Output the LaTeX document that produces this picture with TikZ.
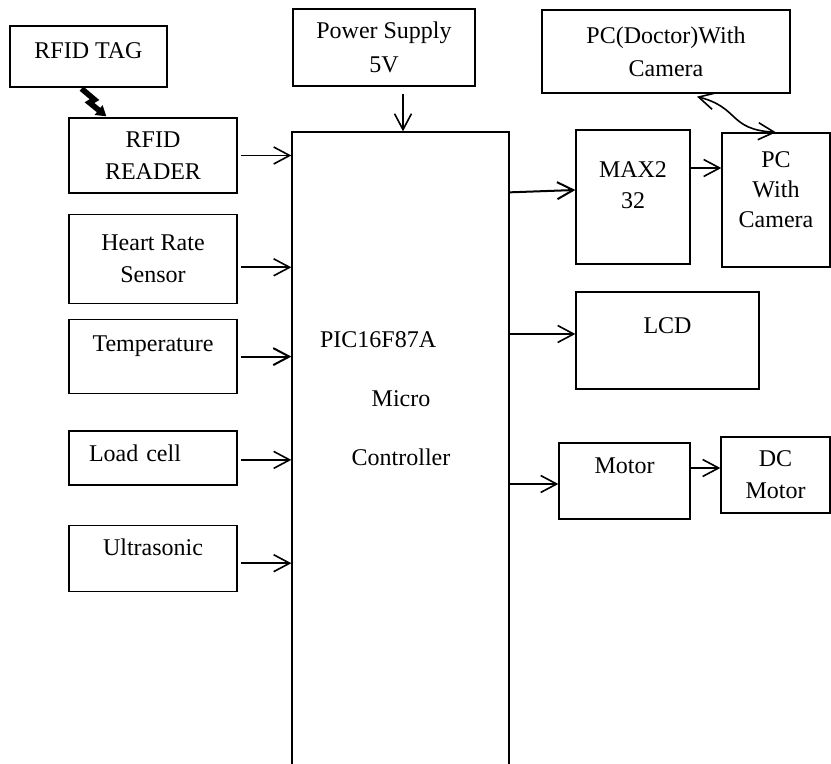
\documentclass[tikz,border=0pt]{standalone}
\usepackage{fontspec}
\setmainfont{Liberation Serif}
\usetikzlibrary{positioning, calc, arrows.meta}
\tikzstyle{block} = [rectangle, draw=black, line width=0.65pt, align=center, inner sep=2pt]
\tikzstyle{arrow} = [line width=0.8pt, -{Straight Barb[length=8pt,width=8.5pt]}]
\tikzstyle{link} = [line width=0.8pt, {Straight Barb[length=8pt,width=8.5pt]}-{Straight Barb[length=8pt,width=8.5pt]}]
\tikzstyle{bolt} = [line width=2.8pt, -{Triangle[length=5pt,width=6pt]}]
\newcommand{\lowpad}[1]{\rule[-#1]{0pt}{0pt}}

\begin{document}
\begin{tikzpicture}[x=0.5pt, y=-0.5pt, font=\fontsize{12}{16}\selectfont]
\useasboundingbox (0,0) rectangle (831,764);
\clip (0,0) rectangle (831,764);
% sensors
\node (tag) [block, minimum width=78.5pt, minimum height=30.5pt, text depth=6.4pt] at (88.5,56.5) {RFID TAG};
\node (reader) [block, minimum width=84pt, minimum height=37.5pt] at (153,155.5) {RFID\\READER};
\node (heart) [block, minimum width=84pt, minimum height=44.5pt, below=10pt of reader] {Heart Rate\\Sensor};
\node (temp) [block, minimum width=84pt, minimum height=37pt, text depth=13pt, below=7.5pt of heart] {Temperature};
\node (load) [block, minimum width=84pt, minimum height=27pt, text width=64pt, inner xsep=10pt, align=left, text depth=5.2pt, below=18pt of temp] {Load cell};
\node (ultra) [block, minimum width=84pt, minimum height=33pt, text depth=11.2pt, below=19.5pt of load] {Ultrasonic};
% controller
\node (power) [block, minimum width=91pt, minimum height=38.5pt] at (384,47.5) {Power Supply\\[1pt]5V};
\node (micro) [block, minimum width=108.5pt, minimum height=334pt] at (400.5,466) {};
\node (pic) [anchor=base west] at (313,348) {PIC16F87A};
\node (mc1) [anchor=base] at (401,407) {Micro};
\node (mc2) [anchor=base] at (401,466) {Controller};
% outputs
\node (doctor) [block, minimum width=124pt, minimum height=41.5pt] at (666,51.5) {PC(Doctor)With\\[0.5pt]Camera};
\node (max) [block, minimum width=57pt, minimum height=67pt] at (633,197) {MAX2\\[-0.5pt]32\lowpad{12pt}};
\node (pc) [block, minimum width=54pt, minimum height=67pt] at (776,200) {PC\\[-1pt]With\\[-1pt]Camera\lowpad{10pt}};
\node (lcd) [block, minimum width=91.5pt, minimum height=48.5pt, text depth=14.5pt] at (667.5,340.5) {LCD};
\node (motor) [block, minimum width=65.5pt, minimum height=38pt, text depth=15pt] at (624.5,481) {Motor};
\node (dcm) [block, minimum width=54.5pt, minimum height=38pt] at (775.5,475) {DC\\Motor};

\draw [bolt] ($(tag.south)+(-7,1)$) -- ++(13,11) -- ++(-5,3) -- ($(reader.north west)+(38,-1)$);
\draw [arrow] ([xshift=1.5pt]reader.east) -- (reader.east -| micro.west);
\coordinate (h1) at ($(heart.east)+(3,8.5)$);
\draw [arrow] (h1) -- (h1 -| micro.west);
\draw [arrow, line width=1pt] ([xshift=1.5pt]temp.east) -- (temp.east -| micro.west);
\coordinate (c1) at ($(load.east)+(3,2)$);
\draw [arrow] (c1) -- (c1 -| micro.west);
\coordinate (u1) at ($(ultra.east)+(3,5)$);
\draw [arrow] (u1) -- (u1 -| micro.west);
\coordinate (p1) at ($(power.south)+(19,7)$);
\draw [arrow] (p1) -- (p1 |- micro.north);
\coordinate (m1) at ($(micro.north east)+(0,61)$);
\draw [arrow, line width=1pt] (m1) -- ($(max.west)+(0,-7)$);
\coordinate (m2) at ($(max.east)+(0,-29)$);
\draw [arrow] (m2) -- (m2 -| pc.west);
\draw [link] ($(doctor.south)+(31,3)$) .. controls +(43,11) and +(-48,-3) .. (pc.north);
\coordinate (l1) at ($(lcd.west)+(0,-6.5)$);
\draw [arrow] (l1 -| micro.east) -- (l1);
\coordinate (mo1) at ($(motor.west)+(0,3)$);
\draw [arrow] (mo1 -| micro.east) -- (mo1);
\coordinate (mo2) at ($(motor.east)+(0,-13)$);
\draw [arrow] (mo2) -- (mo2 -| dcm.west);
\end{tikzpicture}
\end{document}
